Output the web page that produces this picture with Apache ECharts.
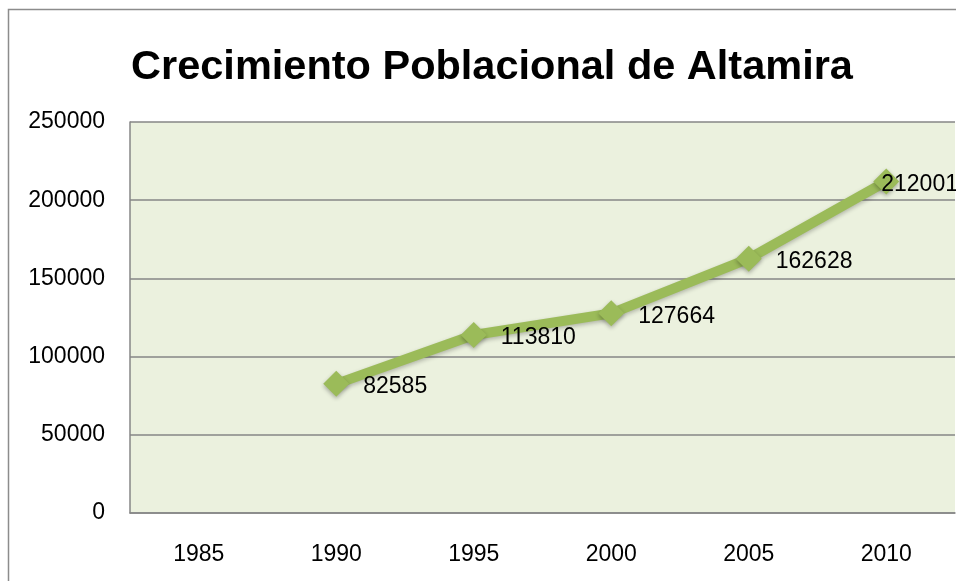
<!DOCTYPE html>
<html>
<head>
<meta charset="utf-8">
<script src="https://cdn.jsdelivr.net/npm/echarts@6/dist/echarts.min.js"></script>
<style>
  html, body { margin: 0; padding: 0; background: #fff; }
  #chart { width: 956px; height: 581px; }
</style>
</head>
<body>
<div id="chart"></div>
<script>
// datos del grafico
const years = ['1985', '1990', '1995', '2000', '2005', '2010']
const population = [null, 82585, 113810, 127664, 162628, 212001]
const yTicks = [0, 50000, 100000, 150000, 200000, 250000]

const chart = echarts.init(document.getElementById('chart'))

// la ultima etiqueta queda encima del marcador (como en el original)
const seriesData = population.map((v, i) => {
  if (i === population.length - 1) {
    return { value: v, label: { distance: 0, offset: [-18, 3] } }
  }
  return v
})

const option = {
  backgroundColor: '#ffffff',
  animation: false,
  title: {
    text: 'Crecimiento Poblacional de Altamira',
    left: 487,
    textAlign: 'center',
    top: 42,
    textStyle: {
      fontFamily: 'Liberation Sans',
      fontWeight: 'bold',
      fontSize: 41.5,
      color: '#000'
    }
  },
  // marco exterior
  graphic: [
    {
      type: 'polyline',
      shape: { points: [[8.5, 590], [8.5, 9.5], [970, 9.5]] },
      style: { stroke: '#8c8c8c', lineWidth: 1.5, fill: null }
    }
  ],
  grid: {
    left: 130,
    right: 1,
    top: 122,
    bottom: 68,
    show: true,
    backgroundColor: '#ebf1de',
    borderWidth: 0
  },
  xAxis: {
    type: 'category',
    data: years,
    boundaryGap: true,
    axisLine: { show: true, lineStyle: { color: '#868686', width: 1.5 } },
    axisTick: { show: false },
    axisLabel: {
      margin: 30,
      fontFamily: 'Liberation Sans',
      fontSize: 23,
      color: '#000'
    }
  },
  yAxis: {
    type: 'value',
    min: yTicks[0],
    max: yTicks[yTicks.length - 1],
    interval: 50000,
    axisLine: { show: true, lineStyle: { color: '#868686', width: 1.5 } },
    axisTick: { show: false },
    splitLine: { show: true, lineStyle: { color: '#868686', width: 1.5 } },
    axisLabel: {
      margin: 25,
      fontFamily: 'Liberation Sans',
      fontSize: 23,
      color: '#000',
      formatter: v => String(v)
    }
  },
  series: [
    {
      type: 'line',
      data: seriesData,
      connectNulls: false,
      symbol: 'diamond',
      symbolSize: 26,
      lineStyle: {
        color: '#9bbb59',
        width: 10,
        shadowColor: 'rgba(0,0,0,0.25)',
        shadowBlur: 4,
        shadowOffsetY: 2
      },
      itemStyle: {
        color: '#9bbb59',
        shadowColor: 'rgba(0,0,0,0.3)',
        shadowBlur: 4,
        shadowOffsetY: 2
      },
      label: {
        show: true,
        position: 'right',
        distance: 14,
        offset: [0, 3],
        fontFamily: 'Liberation Sans',
        fontSize: 23,
        color: '#000'
      }
    }
  ]
}

chart.setOption(option)
</script>
</body>
</html>
